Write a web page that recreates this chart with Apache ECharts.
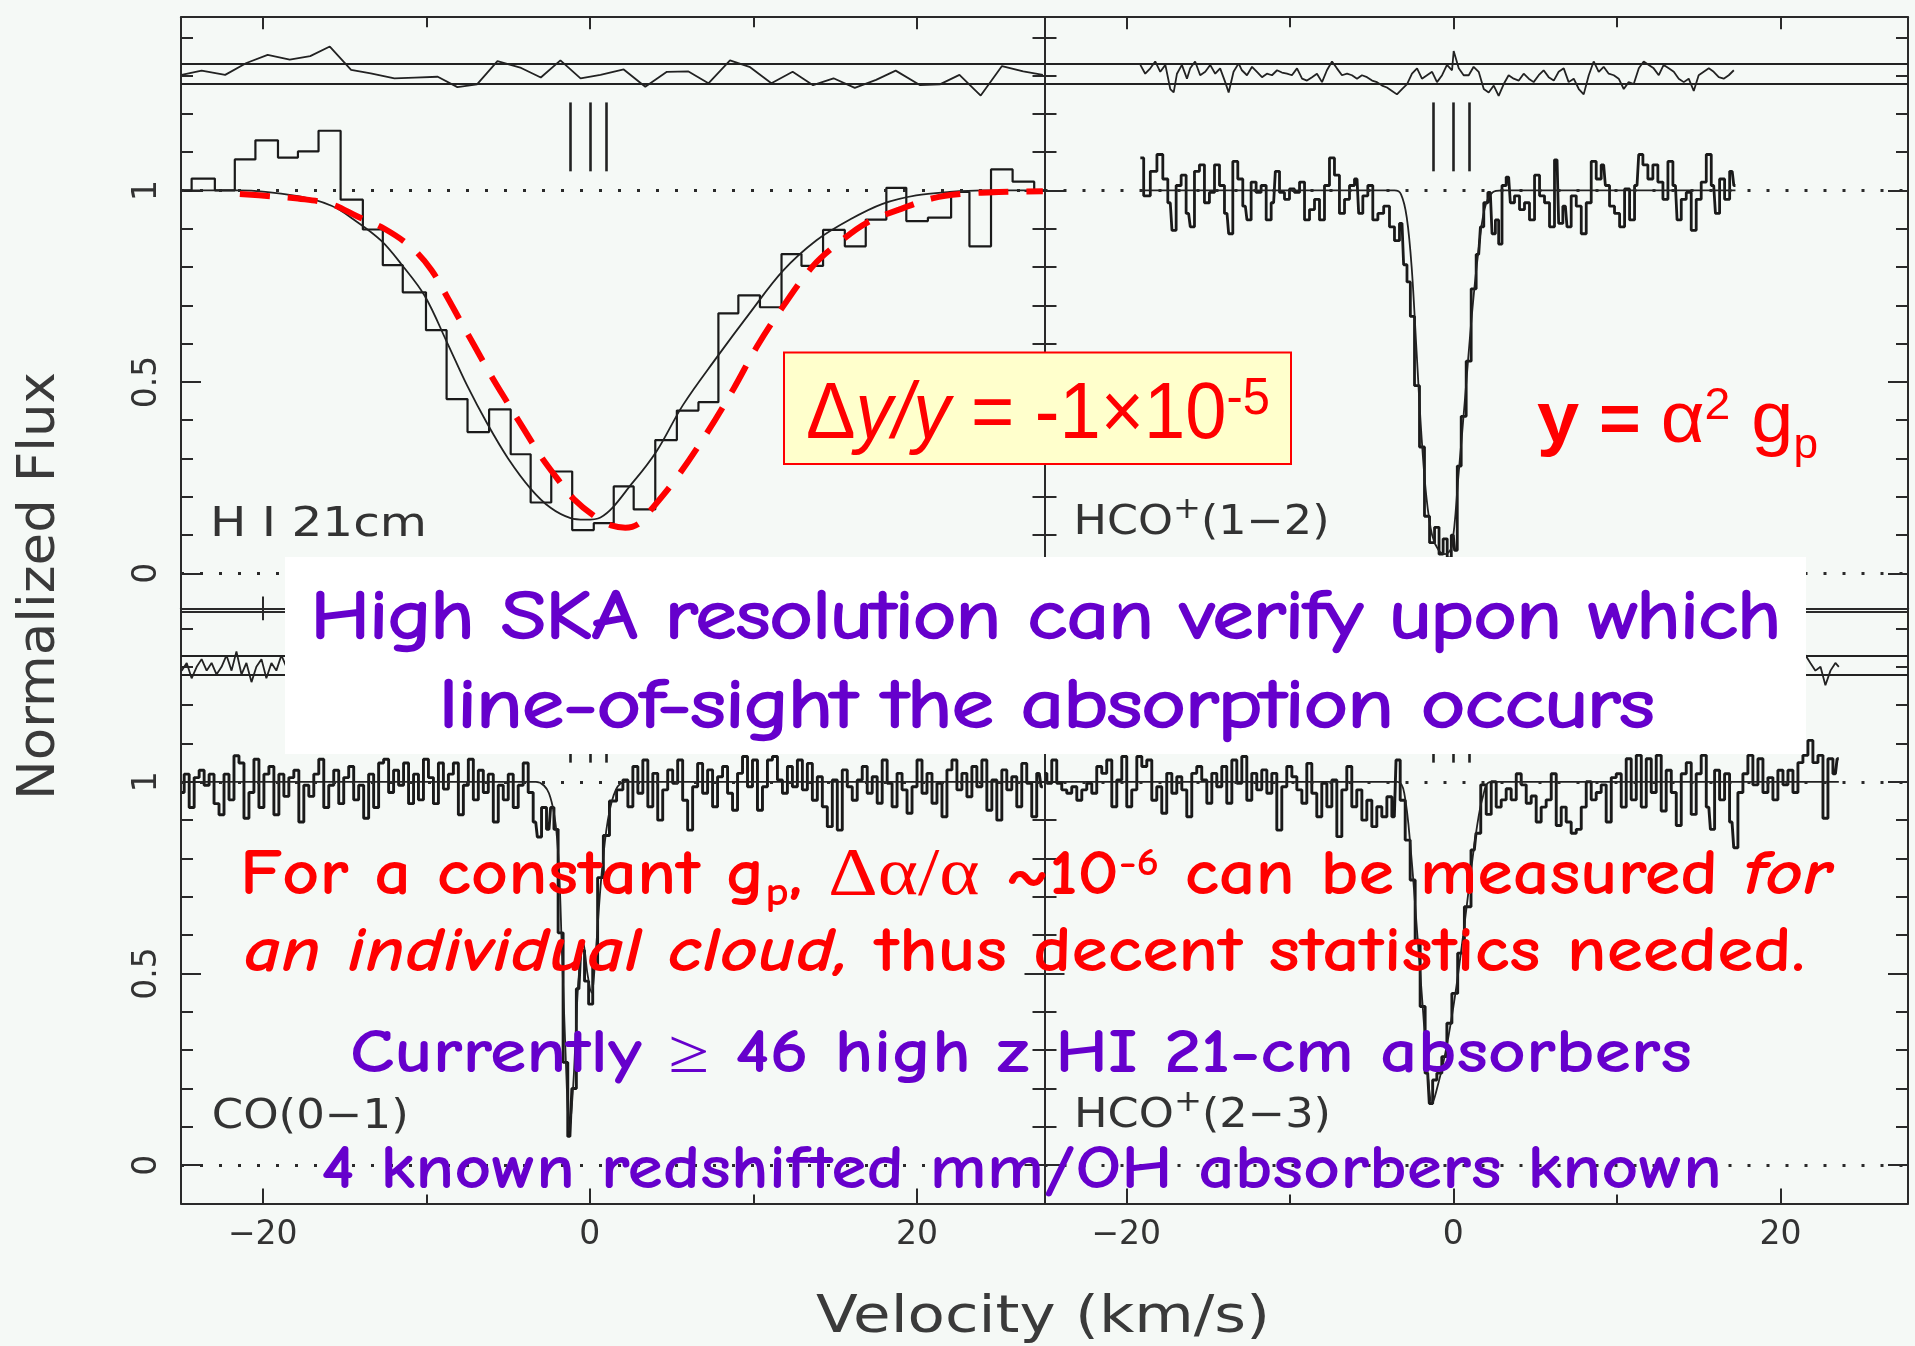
<!DOCTYPE html>
<html>
<head>
<meta charset="utf-8">
<script src="https://cdn.jsdelivr.net/npm/echarts@6/dist/echarts.min.js"></script>
<style>
html,body{margin:0;padding:0;background:#f5f9f6;}
#chart{width:1915px;height:1346px;}
</style>
</head>
<body>
<div id="chart"></div>
<script>
// ---------------- axis values ----------------
const xRange = [-25, 27.8];
const yRange = [-0.1, 1.4526];
const xMajorTicks = [-20, 0, 20];
const xMinorTicks = [-10, 10];
const xLabelVals = [-20, 0, 20];
const yMajorTicks = [0, 0.5, 1];
const yMinorTicks = [0.1, 0.2, 0.3, 0.4, 0.6, 0.7, 0.8, 0.9, 1.1, 1.2, 1.3, 1.4];
const yLabelVals = [0, 0.5, 1];
const refLevels = [0, 1];
const residBand = [1.277, 1.326];
const markerVel = [-1.2, 0.02, 1.0];
const markerSpan = [1.05, 1.23];

// ---------------- H I 21cm ----------------
const hiVel = [-25, -24.35, -22.93, -21.71, -20.45, -19.07, -17.85, -16.59, -15.24, -13.88, -12.66, -11.44, -10.02, -8.76, -7.48, -6.16, -4.84, -3.62, -2.36, -1.08, 0.24, 1.46, 2.68, 4.0, 5.32, 6.64, 7.86, 9.08, 10.4, 11.72, 12.94, 14.26, 15.59, 16.87, 18.13, 19.35, 20.67, 22.09, 23.21, 24.53, 25.85, 27.17, 27.8];
const hiFlux = [1.0, 1.031, 1.0, 1.081, 1.131, 1.086, 1.102, 1.156, 0.976, 0.898, 0.805, 0.734, 0.635, 0.455, 0.369, 0.428, 0.311, 0.185, 0.266, 0.113, 0.131, 0.227, 0.167, 0.348, 0.425, 0.447, 0.679, 0.726, 0.695, 0.834, 0.803, 0.897, 0.854, 0.924, 1.007, 0.920, 0.929, 0.996, 0.854, 1.055, 1.023, 1.0, 1.0];
const hiFitVel = [-25, -21.5, -17.85, -15.8, -14.4, -12.76, -11.5, -10.1, -8.7, -7.5, -6.26, -5.0, -3.6, -2.4, -1.18, -0.3, 0.65, 2.68, 4.1, 5.7, 7.76, 9.8, 11.8, 13.86, 15.9, 17.9, 19.95, 22, 24, 27.8];
const hiFit = [1.0, 1.0, 0.985, 0.96, 0.923, 0.869, 0.806, 0.725, 0.6, 0.49, 0.39, 0.30, 0.22, 0.171, 0.144, 0.14, 0.146, 0.24, 0.32, 0.44, 0.564, 0.681, 0.79, 0.87, 0.924, 0.965, 0.987, 0.996, 1.0, 1.0];
const hiShiftVel = [-21.4, -19.5, -17.85, -15.8, -14.2, -12.56, -10.9, -9.7, -8.7, -7.9, -7.07, -6.06, -5.04, -4.0, -3.0, -2.0, -0.98, 0.45, 1.3, 2.17, 3.0, 3.7, 5.3, 7.15, 8.8, 10.2, 11.7, 13.65, 15.3, 16.9, 18.9, 21.0, 23.0, 25.0, 27.7];
const hiShift = [0.991, 0.985, 0.979, 0.964, 0.932, 0.90, 0.851, 0.793, 0.72, 0.658, 0.595, 0.518, 0.446, 0.374, 0.306, 0.248, 0.194, 0.144, 0.125, 0.119, 0.13, 0.164, 0.249, 0.366, 0.483, 0.591, 0.69, 0.803, 0.866, 0.915, 0.95, 0.98, 0.992, 0.996, 0.998];
const hiResVel = [-24.96, -23.74, -22.3, -21.0, -19.7, -18.35, -17.1, -15.9, -14.6, -13.4, -11.95, -10.7, -9.3, -8.1, -6.9, -5.65, -4.2, -3.0, -1.8, -0.57, 0.65, 2.07, 3.39, 4.71, 6.03, 7.25, 8.57, 9.8, 11.1, 12.4, 13.65, 14.9, 16.2, 17.5, 18.7, 20.2, 21.4, 22.6, 23.9, 25.2, 26.5, 27.7];
const hiRes = [1.302, 1.313, 1.302, 1.333, 1.354, 1.342, 1.351, 1.376, 1.315, 1.306, 1.293, 1.295, 1.297, 1.27, 1.277, 1.338, 1.32, 1.295, 1.34, 1.293, 1.302, 1.316, 1.271, 1.31, 1.311, 1.28, 1.34, 1.322, 1.28, 1.31, 1.275, 1.293, 1.268, 1.289, 1.313, 1.275, 1.277, 1.302, 1.248, 1.325, 1.311, 1.302];

// ---------------- HCO+(1-2) ----------------
const hco12Vel = [-19.14, -18.73, -18.33, -17.92, -17.61, -17.31, -17.1, -16.8, -16.49, -16.19, -15.98, -15.68, -15.37, -15.07, -14.76, -14.45, -14.15, -13.84, -13.64, -13.33, -13.03, -12.72, -12.52, -12.21, -11.91, -11.6, -11.29, -10.99, -10.78, -10.48, -10.17, -9.87, -9.56, -9.25, -8.95, -8.64, -8.34, -8.03, -7.73, -7.42, -7.12, -6.81, -6.5, -6.2, -5.89, -5.69, -5.38, -5.08, -4.77, -4.46, -4.06, -3.75, -3.45, -3.14, -2.94, -2.73, -2.53, -2.22, -1.92, -1.61, -1.3, -1.0, -0.75, -0.5, -0.25, 0.0, 0.15, 0.33, 0.63, 0.94, 1.24, 1.55, 1.76, 1.96, 2.26, 2.47, 2.67, 2.87, 3.08, 3.38, 3.59, 3.89, 4.2, 4.5, 4.81, 5.12, 5.42, 5.73, 6.03, 6.34, 6.54, 6.85, 7.05, 7.36, 7.67, 7.97, 8.28, 8.58, 8.89, 9.19, 9.4, 9.7, 10.01, 10.32, 10.62, 10.93, 11.23, 11.44, 11.74, 12.05, 12.35, 12.66, 12.97, 13.27, 13.58, 13.78, 14.09, 14.39, 14.7, 15.0, 15.31, 15.62, 15.92, 16.13, 16.43, 16.74, 17.05, 17.25];
const hco12Flux = [1.085, 0.986, 1.05, 1.094, 1.03, 0.968, 0.896, 1.013, 1.04, 0.94, 0.905, 1.05, 1.067, 0.968, 0.995, 1.067, 1.013, 0.94, 0.887, 1.076, 1.03, 0.959, 0.923, 1.022, 0.995, 1.013, 0.923, 0.968, 1.05, 0.995, 0.977, 1.004, 0.995, 1.022, 0.923, 0.95, 0.977, 0.923, 1.013, 1.085, 1.04, 0.94, 0.977, 1.013, 1.03, 0.94, 0.986, 1.013, 0.923, 0.94, 0.959, 0.905, 0.869, 0.914, 0.806, 0.761, 0.671, 0.49, 0.33, 0.149, 0.08, 0.12, 0.05, 0.09, 0.04, 0.1, 0.06, 0.28, 0.41, 0.554, 0.743, 0.833, 0.905, 0.968, 0.995, 0.887, 0.923, 0.86, 1.013, 1.035, 0.968, 0.986, 0.95, 0.968, 0.923, 1.04, 0.986, 0.968, 0.905, 1.08, 0.914, 0.959, 0.905, 0.986, 0.959, 0.887, 0.968, 1.076, 1.03, 1.067, 1.013, 0.959, 0.94, 0.905, 1.004, 0.923, 1.013, 1.094, 1.067, 1.03, 1.067, 1.022, 0.977, 1.076, 1.013, 0.923, 0.977, 0.995, 0.896, 0.977, 1.022, 1.094, 1.013, 0.94, 1.03, 0.977, 1.05, 1.013];
const hco12FitVel = [-19.14, -3.6, -3.2, -2.85, -2.55, -2.25, -1.95, -1.65, -1.3, -0.9, -0.5, -0.1, 0.3, 0.7, 1.1, 1.5, 1.9, 2.4, 3.0, 17.25];
const hco12Fit = [1, 1, 0.99, 0.93, 0.8, 0.58, 0.36, 0.2, 0.1, 0.06, 0.05, 0.07, 0.25, 0.45, 0.66, 0.83, 0.95, 0.995, 1, 1];
const hco12ResVel = [-19.14, -18.84, -18.53, -18.23, -17.92, -17.61, -17.31, -17.1, -16.9, -16.6, -16.29, -16.09, -15.79, -15.48, -15.17, -14.87, -14.56, -14.26, -13.95, -13.74, -13.44, -13.13, -12.93, -12.62, -12.31, -12.01, -11.7, -11.4, -11.09, -10.78, -10.48, -10.17, -9.87, -9.56, -9.25, -8.95, -8.64, -8.34, -8.03, -7.73, -7.42, -7.12, -6.81, -6.5, -6.2, -5.89, -5.59, -5.28, -4.97, -4.67, -4.36, -4.06, -3.75, -3.45, -3.14, -2.83, -2.53, -2.22, -1.92, -1.61, -1.3, -1.0, -0.69, -0.39, -0.08, 0.02, 0.33, 0.63, 0.94, 1.24, 1.55, 1.86, 2.16, 2.47, 2.77, 3.08, 3.38, 3.69, 4.0, 4.3, 4.61, 4.91, 5.22, 5.52, 5.83, 6.14, 6.44, 6.75, 7.05, 7.36, 7.67, 7.97, 8.28, 8.58, 8.89, 9.19, 9.5, 9.81, 10.11, 10.42, 10.72, 11.03, 11.34, 11.64, 11.95, 12.25, 12.56, 12.86, 13.17, 13.48, 13.78, 14.09, 14.39, 14.7, 15.0, 15.31, 15.62, 15.92, 16.23, 16.53, 16.84, 17.15];
const hco12Res = [1.328, 1.305, 1.319, 1.337, 1.31, 1.328, 1.265, 1.256, 1.305, 1.328, 1.292, 1.319, 1.337, 1.301, 1.31, 1.328, 1.305, 1.319, 1.283, 1.256, 1.31, 1.332, 1.314, 1.301, 1.323, 1.31, 1.296, 1.305, 1.301, 1.314, 1.308, 1.305, 1.301, 1.319, 1.292, 1.287, 1.296, 1.305, 1.283, 1.314, 1.337, 1.319, 1.301, 1.305, 1.301, 1.292, 1.301, 1.296, 1.287, 1.283, 1.274, 1.269, 1.26, 1.251, 1.265, 1.278, 1.305, 1.319, 1.292, 1.301, 1.31, 1.283, 1.301, 1.328, 1.314, 1.364, 1.319, 1.301, 1.301, 1.323, 1.31, 1.265, 1.256, 1.274, 1.247, 1.278, 1.301, 1.292, 1.287, 1.305, 1.292, 1.283, 1.301, 1.314, 1.296, 1.287, 1.31, 1.319, 1.283, 1.292, 1.265, 1.251, 1.301, 1.337, 1.31, 1.323, 1.305, 1.301, 1.292, 1.265, 1.283, 1.278, 1.319, 1.337, 1.328, 1.319, 1.301, 1.328, 1.319, 1.31, 1.292, 1.283, 1.292, 1.26, 1.301, 1.31, 1.319, 1.31, 1.296, 1.292, 1.301, 1.314];

// ---------------- CO(0-1) ----------------
const coVel = [-24.96, -24.65, -24.35, -24.04, -23.74, -23.43, -23.13, -22.83, -22.52, -22.22, -21.91, -21.61, -21.3, -21.0, -20.69, -20.39, -20.08, -19.78, -19.47, -19.17, -18.86, -18.56, -18.25, -17.95, -17.64, -17.34, -17.03, -16.73, -16.42, -16.12, -15.81, -15.51, -15.2, -14.9, -14.59, -14.29, -13.98, -13.68, -13.37, -13.07, -12.76, -12.46, -12.15, -11.85, -11.54, -11.24, -10.93, -10.63, -10.33, -10.02, -9.72, -9.41, -9.11, -8.8, -8.5, -8.19, -7.89, -7.58, -7.28, -6.97, -6.67, -6.36, -6.06, -5.75, -5.45, -5.14, -4.84, -4.53, -4.23, -3.92, -3.62, -3.31, -3.11, -2.8, -2.5, -2.3, -2.09, -1.79, -1.48, -1.22, -0.98, -0.67, -0.45, -0.2, 0.05, 0.3, 0.65, 1.0, 1.4, 1.87, 2.17, 2.48, 2.78, 3.09, 3.39, 3.7, 4.0, 4.3, 4.61, 4.91, 5.22, 5.52, 5.83, 6.13, 6.44, 6.74, 7.05, 7.35, 7.66, 7.96, 8.27, 8.57, 8.88, 9.18, 9.49, 9.79, 10.1, 10.4, 10.71, 11.01, 11.32, 11.62, 11.93, 12.23, 12.54, 12.84, 13.15, 13.45, 13.76, 14.06, 14.37, 14.67, 14.98, 15.28, 15.59, 15.89, 16.2, 16.5, 16.81, 17.11, 17.42, 17.72, 18.03, 18.33, 18.63, 18.94, 19.24, 19.55, 19.85, 20.16, 20.46, 20.77, 21.07, 21.38, 21.68, 21.99, 22.29, 22.6, 22.9, 23.21, 23.51, 23.82, 24.12, 24.43, 24.73, 25.04, 25.34, 25.65, 25.95, 26.26, 26.56, 26.87, 27.17, 27.48, 27.7];
const coFlux = [0.972, 1.02, 0.933, 1.011, 1.03, 0.991, 1.02, 0.943, 0.914, 1.02, 0.953, 1.068, 1.049, 0.905, 0.972, 1.059, 0.933, 1.02, 1.04, 0.914, 1.02, 0.962, 1.011, 1.03, 0.895, 0.991, 0.962, 1.02, 1.059, 0.933, 0.991, 1.03, 0.943, 1.011, 1.04, 0.953, 0.991, 0.905, 1.02, 0.933, 1.049, 1.059, 0.972, 1.03, 0.991, 1.049, 0.943, 1.02, 0.953, 1.059, 1.011, 0.943, 1.049, 0.981, 1.02, 1.049, 0.914, 0.991, 1.059, 0.953, 1.03, 0.972, 1.02, 0.895, 0.991, 0.953, 1.02, 0.933, 0.991, 1.049, 0.972, 0.895, 0.856, 0.933, 0.876, 0.933, 0.876, 0.606, 0.268, 0.075, 0.2, 0.46, 0.56, 0.48, 0.42, 0.52, 0.75, 0.86, 0.95, 0.979, 1.005, 0.935, 1.04, 0.97, 1.057, 0.935, 1.022, 0.9, 0.979, 1.031, 0.996, 1.057, 0.952, 0.874, 0.987, 1.048, 0.97, 1.031, 0.935, 1.013, 1.04, 0.97, 0.926, 1.022, 1.066, 0.987, 1.057, 0.926, 0.987, 1.057, 1.066, 1.005, 0.97, 1.04, 0.987, 1.057, 0.979, 1.048, 0.952, 1.013, 0.935, 0.883, 1.005, 0.874, 1.031, 0.987, 0.952, 1.005, 1.04, 0.97, 1.013, 0.944, 1.057, 0.996, 0.935, 1.022, 0.979, 0.918, 0.987, 1.057, 0.97, 1.022, 0.944, 0.996, 0.909, 1.031, 1.057, 0.979, 1.022, 0.961, 1.04, 0.987, 1.057, 0.926, 1.005, 0.9, 1.031, 0.979, 1.013, 0.935, 1.048, 0.996, 0.909, 1.022, 0.987];
const coFitVel = [-25, -3.3, -2.5, -2.0, -1.7, -1.45, -1.25, -1.0, -0.7, -0.4, -0.15, 0.1, 0.35, 0.7, 1.1, 1.6, 2.2, 27.8];
const coFit = [1, 1, 0.97, 0.85, 0.55, 0.25, 0.09, 0.22, 0.48, 0.58, 0.5, 0.45, 0.55, 0.75, 0.9, 0.98, 1, 1];
const coResVel = [-24.96, -24.65, -24.35, -24.04, -23.74, -23.43, -23.13, -22.83, -22.52, -22.22, -21.91, -21.61, -21.3, -21.0, -20.69, -20.39, -20.08, -19.78, -19.47, -19.17, -18.86, -18.56, -18.25];
const coRes = [1.29, 1.31, 1.27, 1.3, 1.32, 1.29, 1.31, 1.28, 1.3, 1.33, 1.29, 1.34, 1.28, 1.31, 1.26, 1.3, 1.32, 1.27, 1.31, 1.29, 1.33, 1.3, 1.31];

// ---------------- HCO+(2-3) ----------------
const hco23Vel = [-25.0, -24.71, -24.4, -24.1, -23.79, -23.49, -23.18, -22.87, -22.57, -22.26, -21.96, -21.65, -21.35, -21.04, -20.73, -20.43, -20.12, -19.82, -19.51, -19.2, -18.9, -18.59, -18.29, -17.98, -17.68, -17.37, -17.06, -16.76, -16.45, -16.15, -15.84, -15.54, -15.23, -14.92, -14.62, -14.31, -14.01, -13.7, -13.39, -13.09, -12.78, -12.48, -12.17, -11.87, -11.56, -11.25, -10.95, -10.64, -10.34, -10.03, -9.72, -9.42, -9.11, -8.81, -8.5, -8.2, -7.89, -7.58, -7.28, -6.97, -6.67, -6.36, -6.06, -5.75, -5.44, -5.14, -4.83, -4.53, -4.22, -3.91, -3.61, -3.4, -3.1, -2.79, -2.49, -2.18, -1.88, -1.57, -1.37, -1.16, -0.86, -0.55, -0.24, 0.06, 0.47, 0.88, 1.28, 1.49, 1.86, 2.16, 2.47, 2.77, 3.08, 3.38, 3.69, 4.0, 4.3, 4.61, 4.91, 5.22, 5.52, 5.83, 6.14, 6.44, 6.75, 7.05, 7.36, 7.67, 7.97, 8.28, 8.58, 8.89, 9.19, 9.5, 9.81, 10.11, 10.42, 10.72, 11.03, 11.34, 11.64, 11.95, 12.25, 12.56, 12.86, 13.17, 13.48, 13.78, 14.09, 14.39, 14.7, 15.0, 15.31, 15.62, 15.82, 16.13, 16.43, 16.74, 17.04, 17.25, 17.55, 17.86, 18.16, 18.47, 18.78, 19.08, 19.39, 19.69, 20.0, 20.31, 20.61, 20.92, 21.22, 21.53, 21.83, 22.14, 22.45, 22.75, 23.06, 23.36, 23.57];
const hco23Flux = [1.022, 0.996, 1.057, 0.996, 0.979, 0.97, 0.987, 0.952, 0.979, 0.996, 0.97, 1.04, 1.022, 1.057, 0.935, 1.005, 1.066, 0.935, 0.979, 1.066, 1.04, 1.057, 0.952, 0.987, 0.918, 1.022, 0.97, 1.013, 0.979, 0.909, 1.022, 1.04, 1.005, 0.944, 1.022, 0.987, 1.04, 0.944, 1.057, 0.996, 1.066, 0.952, 1.022, 0.979, 1.031, 0.97, 1.022, 0.874, 0.987, 1.04, 1.013, 0.979, 0.944, 1.048, 0.97, 0.909, 0.996, 0.935, 1.005, 0.857, 0.979, 1.04, 0.935, 0.979, 0.9, 0.952, 0.883, 0.935, 0.909, 0.961, 0.909, 1.057, 0.952, 0.848, 0.744, 0.587, 0.414, 0.24, 0.161, 0.222, 0.24, 0.283, 0.37, 0.448, 0.553, 0.674, 0.822, 0.866, 0.992, 0.915, 1.0, 0.934, 0.953, 0.982, 0.953, 1.021, 0.992, 0.944, 0.963, 0.895, 0.934, 0.953, 1.021, 0.886, 0.934, 0.895, 0.866, 0.876, 0.934, 1.0, 0.953, 0.972, 0.992, 0.895, 1.011, 1.021, 0.934, 1.06, 0.953, 1.069, 0.934, 1.06, 0.972, 1.069, 0.924, 1.03, 0.972, 0.886, 1.021, 1.05, 0.915, 1.021, 1.069, 0.934, 0.876, 1.03, 0.953, 1.021, 0.895, 0.828, 0.972, 1.021, 1.069, 0.992, 1.06, 0.972, 1.011, 0.953, 1.03, 0.992, 1.03, 0.972, 1.05, 1.069, 1.108, 1.05, 1.069, 0.905, 1.06, 1.021, 1.06];
const hco23FitVel = [-25, -3.4, -3.0, -2.6, -2.2, -1.85, -1.55, -1.3, -1.0, -0.6, -0.2, 0.2, 0.6, 1.0, 1.4, 1.8, 2.3, 23.57];
const hco23Fit = [1, 1, 0.97, 0.82, 0.6, 0.4, 0.23, 0.16, 0.2, 0.27, 0.36, 0.47, 0.6, 0.74, 0.87, 0.96, 1, 1];
const hco23ResVel = [21.0, 21.22, 21.53, 21.83, 22.14, 22.45, 22.75, 23.06, 23.36, 23.57];
const hco23Res = [1.31, 1.32, 1.33, 1.31, 1.29, 1.30, 1.252, 1.29, 1.31, 1.30];

// ---------------- texts ----------------
const panelLabels = ['H I 21cm', 'HCO', '(1\u22122)', 'CO(0\u22121)', '(2\u22123)'];
const xTitle = 'Velocity (km/s)';
const yTitle = 'Normalized Flux';

// ================= build =================
const AX = '#2a2a2a';
const INK = '#333333';
const RED = '#ff0000';
const PURPLE = '#6600cc';
const PLOT_FONT = "'DejaVu Sans', sans-serif";
const COMIC = "'Comic Sans MS', 'Comic Neue', 'DejaVu Sans', sans-serif";
const ARIAL = "'Liberation Sans', Arial, sans-serif";
const SERIF = "'Liberation Serif', 'DejaVu Serif', serif";

function pairs(xs, ys) {
  const n = Math.min(xs.length, ys.length), out = [];
  for (let i = 0; i < n; i++) out.push([xs[i], ys[i]]);
  return out;
}
const fmtX = v => (v < 0 ? '\u2212' + (-v) : String(v));

const grids = [
  { left: 181, top: 17.2, width: 863.5, height: 594.4 },
  { left: 1044.5, top: 17.2, width: 863.5, height: 594.4 },
  { left: 181, top: 608.3, width: 863.5, height: 595.2 },
  { left: 1044.5, top: 608.3, width: 863.5, height: 595.2 }
].map(g => Object.assign(g, { containLabel: false, outerBoundsMode: 'none' }));

function makeX(gi, pos, ticks, len, line, labels) {
  return {
    type: 'value', gridIndex: gi, position: pos, min: xRange[0], max: xRange[1],
    axisLine: { show: line, onZero: false, lineStyle: { color: AX, width: 2 } },
    axisTick: { show: true, inside: true, length: len, customValues: ticks, lineStyle: { color: AX, width: 2 } },
    axisLabel: labels ? { show: true, customValues: xLabelVals, formatter: fmtX, fontSize: 33, fontFamily: PLOT_FONT, color: INK, margin: 15 } : { show: false },
    splitLine: { show: false }, minorTick: { show: false }
  };
}
function makeY(gi, pos, ticks, len, line, labels) {
  return {
    type: 'value', gridIndex: gi, position: pos, min: yRange[0], max: yRange[1],
    axisLine: { show: line, onZero: false, lineStyle: { color: AX, width: 2 } },
    axisTick: { show: true, inside: true, length: len, customValues: ticks, lineStyle: { color: AX, width: 2 } },
    axisLabel: labels ? { show: true, customValues: yLabelVals, formatter: v => String(v), rotate: 90, fontSize: 33, fontFamily: PLOT_FONT, color: INK, margin: 17 } : { show: false },
    splitLine: { show: false }, minorTick: { show: false }
  };
}

const xAxes = [], yAxes = [];
for (let gi = 0; gi < 4; gi++) {
  const bottomRow = gi >= 2, leftCol = gi % 2 === 0;
  xAxes.push(makeX(gi, 'bottom', xMajorTicks, 15, true, bottomRow));
  xAxes.push(makeX(gi, 'bottom', xMinorTicks, 9, false, false));
  xAxes.push(makeX(gi, 'top', xMajorTicks, 12, true, false));
  xAxes.push(makeX(gi, 'top', xMinorTicks, 10, false, false));
  yAxes.push(makeY(gi, 'left', yMajorTicks, 20, true, leftCol));
  yAxes.push(makeY(gi, 'left', yMinorTicks, 12, false, false));
  yAxes.push(makeY(gi, 'right', yMajorTicks, 20, true, false));
  yAxes.push(makeY(gi, 'right', yMinorTicks, 12, false, false));
}

const panels = [
  { spec: pairs(hiVel, hiFlux), step: 'end', w: 2.2, fit: pairs(hiFitVel, hiFit), res: pairs(hiResVel, hiRes), shift: pairs(hiShiftVel, hiShift) },
  { spec: pairs(hco12Vel, hco12Flux), step: 'middle', w: 2.8, fit: pairs(hco12FitVel, hco12Fit), res: pairs(hco12ResVel, hco12Res) },
  { spec: pairs(coVel, coFlux), step: 'middle', w: 2.9, fit: pairs(coFitVel, coFit), res: pairs(coResVel, coRes) },
  { spec: pairs(hco23Vel, hco23Flux), step: 'middle', w: 2.9, fit: pairs(hco23FitVel, hco23Fit), res: pairs(hco23ResVel, hco23Res) }
];

const series = [];
panels.forEach((p, gi) => {
  const ax = { xAxisIndex: gi * 4, yAxisIndex: gi * 4 };
  series.push(Object.assign({
    type: 'line', data: p.spec, step: p.step, showSymbol: false, symbol: 'none', silent: true,
    lineStyle: { color: '#1a1a1a', width: p.w },
    markLine: {
      silent: true, symbol: ['none', 'none'], label: { show: false },
      lineStyle: { color: '#2a2a2a', width: 3, type: [3, 16], cap: 'butt' },
      data: refLevels.map(v => ({ yAxis: v }))
    }
  }, ax));
  series.push(Object.assign({
    type: 'line', data: p.fit, smooth: 0.35, showSymbol: false, symbol: 'none', silent: true,
    lineStyle: { color: '#222', width: 1.8 },
    markLine: {
      silent: true, symbol: ['none', 'none'], label: { show: false },
      lineStyle: { color: '#222', width: 2.6, type: 'solid' },
      data: markerVel.map(v => [{ coord: [v, markerSpan[0]] }, { coord: [v, markerSpan[1]] }])
    }
  }, ax));
  series.push(Object.assign({
    type: 'line', data: p.res, showSymbol: false, symbol: 'none', silent: true,
    lineStyle: { color: '#222', width: 1.8 },
    markLine: {
      silent: true, symbol: ['none', 'none'], label: { show: false },
      lineStyle: { color: '#222', width: 2, type: 'solid' },
      data: residBand.map(v => ({ yAxis: v }))
    }
  }, ax));
  if (p.shift) {
    series.push(Object.assign({
      type: 'line', data: p.shift, smooth: 0.35, showSymbol: false, symbol: 'none', silent: true, z: 5,
      lineStyle: { color: RED, width: 6, type: [30, 18], cap: 'butt' }
    }, ax));
  }
});

// ---------- annotation text helper ----------
const cvs = document.createElement('canvas');
const ctx = cvs.getContext('2d');
function textLine(segs, o) {
  const base = { size: o.size, family: o.family, weight: o.weight || 'normal', fstyle: 'normal', color: o.color, strokeW: o.strokeW || 0 };
  let cur = 0; const parts = [];
  segs.forEach(sg => {
    const s = Object.assign({}, base, sg);
    ctx.font = s.fstyle + ' ' + s.weight + ' ' + s.size + 'px ' + s.family;
    ctx.textBaseline = 'alphabetic';
    const w = ctx.measureText(s.t).width;
    ctx.textBaseline = 'middle';
    const off = ctx.measureText('H').actualBoundingBoxDescent || s.size * 0.33;
    ctx.textBaseline = 'alphabetic';
    parts.push({ s: s, w: w, x: cur, off: off });
    cur += w;
  });
  const sx = o.w ? o.w / cur : 1;
  const shift = o.center ? -cur / 2 : 0;
  return {
    type: 'group', x: o.x, y: o.y, rotation: o.rotation || 0, scaleX: sx, scaleY: o.sy || 1, z: 120,
    children: parts.map(pt => ({
      type: 'text', x: pt.x + shift, y: (pt.s.dy || 0) - pt.off, z: 120, silent: true,
      style: Object.assign({
        text: pt.s.t, fill: pt.s.color, fontSize: pt.s.size, fontFamily: pt.s.family,
        fontWeight: pt.s.weight, fontStyle: pt.s.fstyle,
        align: 'left', verticalAlign: 'middle', textAlign: 'left', textVerticalAlign: 'middle'
      },
      pt.s.strokeW ? { stroke: pt.s.color, lineWidth: pt.s.strokeW } : {},
      pt.s.shadow ? { textShadowColor: 'rgba(110,110,110,0.6)', textShadowOffsetX: 2, textShadowOffsetY: 2, textShadowBlur: 0 } : {})
    }))
  };
}

const graphics = [
  // plot labels
  textLine([{ t: panelLabels[0] }], { x: 210, y: 536, w: 217, size: 40, family: PLOT_FONT, color: INK }),
  textLine([{ t: panelLabels[1] }, { t: '+', size: 30, dy: -16 }, { t: panelLabels[2] }], { x: 1073.5, y: 534, w: 256, size: 40, family: PLOT_FONT, color: INK }),
  textLine([{ t: panelLabels[3] }], { x: 211.7, y: 1128, w: 197, size: 40, family: PLOT_FONT, color: INK }),
  textLine([{ t: panelLabels[1] }, { t: '+', size: 30, dy: -16 }, { t: panelLabels[4] }], { x: 1074, y: 1127, w: 257, size: 40, family: PLOT_FONT, color: INK }),
  textLine([{ t: xTitle }], { x: 1043, y: 1332, w: 454, center: true, size: 52, family: PLOT_FONT, color: '#3a3a3a' }),
  textLine([{ t: yTitle }], { x: 54, y: 586, w: 428, center: true, rotation: Math.PI / 2, size: 52, family: PLOT_FONT, color: '#3a3a3a' }),
  // yellow box
  { type: 'rect', z: 110, silent: true, shape: { x: 784, y: 352.5, width: 507, height: 111.5 }, style: { fill: '#ffffcc', stroke: RED, lineWidth: 2 } },
  textLine([{ t: '\u0394' }, { t: 'y/y', fstyle: 'italic' }, { t: ' = -1\u00d710' }, { t: '-5', size: 50, dy: -23 }], { x: 806, y: 438, w: 464, sy: 1.05, size: 76, family: ARIAL, color: RED }),
  // y = alpha^2 g_p
  textLine([{ t: 'y', weight: 'bold', size: 72 }, { t: ' = ', weight: 'bold' }, { t: '\u03b1', shadow: true, size: 72 }, { t: '2', size: 44, dy: -23 }, { t: ' g', size: 72 }, { t: 'p', size: 42, dy: 16 }], { x: 1537, y: 442, w: 281, size: 68, family: ARIAL, color: RED }),
  // white box
  { type: 'rect', z: 110, silent: true, shape: { x: 285, y: 557, width: 1521, height: 197 }, style: { fill: '#ffffff' } },
  textLine([{ t: 'High SKA resolution can verify upon which' }], { x: 1046, y: 637.6, w: 1470, center: true, sy: 1.1, size: 62, strokeW: 2.2, family: COMIC, color: PURPLE }),
  textLine([{ t: 'line-of-sight the absorption occurs' }], { x: 1047, y: 726.6, w: 1215, center: true, sy: 1.1, size: 62, strokeW: 2.2, family: COMIC, color: PURPLE }),
  // red statement
  textLine([
    { t: 'For a constant g' }, { t: 'p', size: 40, dy: 11 }, { t: ', ' },
    { t: '\u0394\u03b1/\u03b1', family: SERIF, weight: 'normal', size: 68, shadow: true },
    { t: ' ~10' }, { t: '-6', size: 38, dy: -19 }, { t: ' can be measured ' }, { t: 'for', fstyle: 'italic' }
  ], { x: 240, y: 893.6, w: 1592, size: 64, weight: 'bold', family: COMIC, color: RED }),
  textLine([{ t: 'an individual cloud,', fstyle: 'italic' }, { t: ' thus decent statistics needed.' }],
    { x: 244, y: 970.8, w: 1561, size: 64, weight: 'bold', family: COMIC, color: RED }),
  // purple statements
  textLine([{ t: 'Currently ' }, { t: '\u2265', weight: 'normal', family: SERIF, shadow: true }, { t: ' 46 high z HI 21-cm absorbers' }],
    { x: 350, y: 1072.4, w: 1342, size: 62, weight: 'bold', family: COMIC, color: PURPLE }),
  textLine([{ t: '4 known redshifted mm/OH absorbers known' }],
    { x: 321, y: 1188.2, w: 1401, size: 62, weight: 'bold', family: COMIC, color: PURPLE })
];

const chart = echarts.init(document.getElementById('chart'), null, { renderer: 'canvas' });
chart.setOption({
  animation: false,
  backgroundColor: '#f5f9f6',
  grid: grids,
  xAxis: xAxes,
  yAxis: yAxes,
  series: series,
  graphic: { elements: graphics }
});
</script>
</body>
</html>
